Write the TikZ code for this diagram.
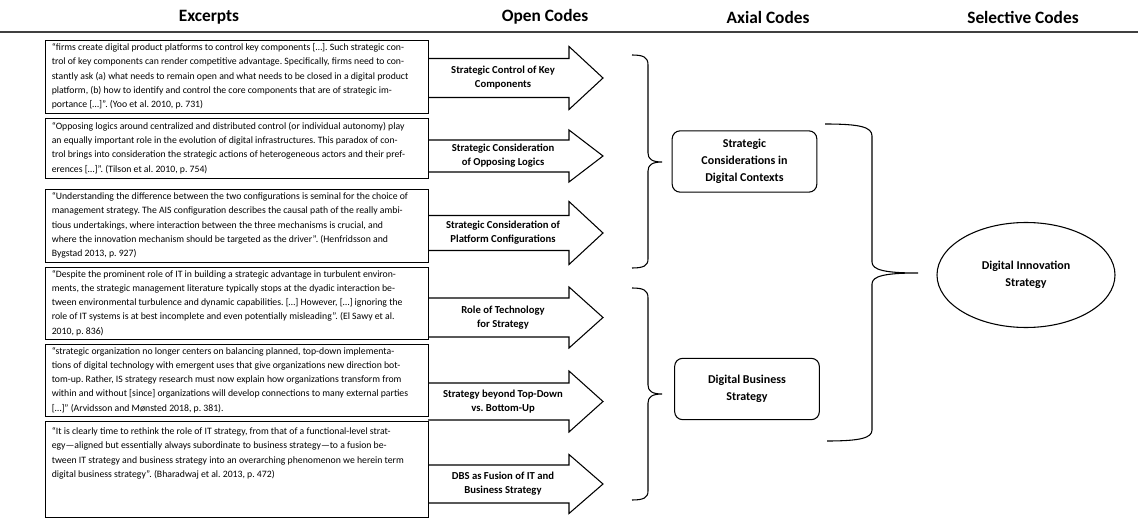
\documentclass[tikz,border=0pt]{standalone}
\usepackage{fontspec}
\setmainfont{Carlito}
\usetikzlibrary{shapes.geometric,shadows}
\begin{document}
\frenchspacing
\begin{tikzpicture}[x=0.75pt,y=-0.75pt,
  hdr/.style={font=\fontsize{13}{15}\selectfont\bfseries, inner sep=0pt},
  excerpt/.style={draw, line width=0.7pt, fill=white, rectangle,
    drop shadow={shadow xshift=1.1pt, shadow yshift=-1.1pt, fill=black!50, opacity=1},
    inner sep=0pt, minimum width=287.25pt},
  etext/.style={inner sep=0pt, align=left, font=\fontsize{7.3}{10.7}\selectfont},
  arrowline/.style={draw, line width=0.8pt, fill=white, line join=miter},
  openlbl/.style={font=\fontsize{8}{10.5}\selectfont\bfseries, align=center, inner sep=0pt},
  axial/.style={draw, line width=0.8pt, rounded corners=6pt, align=center,
    font=\fontsize{9}{12.75}\selectfont\bfseries, minimum width=108.5pt, minimum height=46pt},
  brace/.style={draw, line width=0.8pt},
  selective/.style={draw, ellipse, line width=0.8pt, align=center,
    font=\fontsize{9}{12.75}\selectfont\bfseries, minimum width=133.5pt, minimum height=78.75pt}]
\useasboundingbox (0,0) rectangle (1138,520);

% headers
\node[hdr] (h1) at (209,17) {Excerpts};
\node[hdr] (h2) at (545,17) {Open Codes};
\node[hdr] (h3) at (768,17) {Axial Codes};
\node[hdr] (h4) at (1023,17) {Selective Codes};
\draw[line width=1.1pt, black!75] (0,32) -- (1138,32);

% block arrows
\newcommand{\blockarrow}[3]{%
  \path[arrowline] (428,{#1-#2}) -- (569,{#1-#2}) -- (569,{#1-#3}) -- (603,#1)
    -- (569,{#1+#3}) -- (569,{#1+#2}) -- (428,{#1+#2});}
\blockarrow{78}{19.5}{31.5}
\blockarrow{156}{16}{26}
\blockarrow{233}{17.5}{31.5}
\blockarrow{317.5}{19.5}{30.5}
\blockarrow{401.5}{18.5}{30.5}
\blockarrow{484}{19}{29.5}

% excerpt boxes
\node[excerpt, minimum height=54.75pt] (e1) at (236.5,76.5) {};
\node[excerpt, minimum height=45pt] (e2) at (236.5,148) {};
\node[excerpt, minimum height=54.75pt] (e3) at (236.5,225.5) {};
\node[excerpt, minimum height=54pt] (e4) at (236.5,303) {};
\node[excerpt, minimum height=54pt] (e5) at (236.5,380) {};
\node[excerpt, minimum height=72pt] (e6) at (236.5,469) {};

% excerpt texts
\node[etext, anchor=west] (t1) at ([xshift=5.25pt]e1.west) {“firms create digital product platforms to control key components […]. Such strategic con-\\trol of key components can render competitive advantage. Specifically, firms need to con-\\stantly ask (a) what needs to remain open and what needs to be closed in a digital product\\platform, (b) how to identify and control the core components that are of strategic im-\\portance […]”. (Yoo et al. 2010, p. 731)};
\node[etext, anchor=west] (t2) at ([xshift=5.25pt]e2.west) {“Opposing logics around centralized and distributed control (or individual autonomy) play\\an equally important role in the evolution of digital infrastructures. This paradox of con-\\trol brings into consideration the strategic actions of heterogeneous actors and their pref-\\erences […]”. (Tilson et al. 2010, p. 754)};
\node[etext, anchor=west] (t3) at ([xshift=5.25pt]e3.west) {“Understanding the difference between the two configurations is seminal for the choice of\\management strategy. The AIS configuration describes the causal path of the really ambi-\\tious undertakings, where interaction between the three mechanisms is crucial, and\\where the innovation mechanism should be targeted as the driver”. (Henfridsson and\\Bygstad 2013, p. 927)};
\node[etext, anchor=west] (t4) at ([xshift=5.25pt]e4.west) {“Despite the prominent role of IT in building a strategic advantage in turbulent environ-\\ments, the strategic management literature typically stops at the dyadic interaction be-\\tween environmental turbulence and dynamic capabilities. […] However, […] ignoring the\\role of IT systems is at best incomplete and even potentially misleading”. (El Sawy et al.\\2010, p. 836)};
\node[etext, anchor=west] (t5) at ([xshift=5.25pt]e5.west) {“strategic organization no longer centers on balancing planned, top-down implementa-\\tions of digital technology with emergent uses that give organizations new direction bot-\\tom-up. Rather, IS strategy research must now explain how organizations transform from\\within and without [since] organizations will develop connections to many external parties\\{}[…]” (Arvidsson and Mønsted 2018, p. 381).};
\node[etext, anchor=north west] (t6) at ([xshift=5.25pt,yshift=-5pt]e6.north west) {“It is clearly time to rethink the role of IT strategy, from that of a functional-level strat-\\egy—aligned but essentially always subordinate to business strategy—to a fusion be-\\tween IT strategy and business strategy into an overarching phenomenon we herein term\\digital business strategy”. (Bharadwaj et al. 2013, p. 472)};

% open code labels
\node[openlbl] (o1) at (503,78) {Strategic Control of Key\\Components};
\node[openlbl] (o2) at (503,156) {Strategic Consideration\\of Opposing Logics};
\node[openlbl] (o3) at (503,233) {Strategic Consideration of\\Platform Configurations};
\node[openlbl] (o4) at (503,317.5) {Role of Technology\\for Strategy};
\node[openlbl] (o5) at (503,401.5) {Strategy beyond Top-Down\\vs. Bottom-Up};
\node[openlbl] (o6) at (503,484) {DBS as Fusion of IT and\\Business Strategy};

% axial codes
\node[axial] (a1) at (744.5,161.5) {Strategic\\Considerations in\\Digital Contexts};
\node[axial] (a2) at (747,389) {Digital Business\\Strategy};

% selective code
\node[selective] (s1) at (1026,275) {Digital Innovation\\Strategy};

% braces
\coordinate (b1tip) at (662,162);
\coordinate (b2tip) at (662,394);
\coordinate (b3tip) at (918,273);
\draw[brace] (632,55) .. controls (643,55) and (648,57) .. (648,65) -- (648,153)
  .. controls (648,159) and (652,162) .. (b1tip)
  .. controls (652,162) and (648,165) .. (648,171) -- (648,259)
  .. controls (648,266) and (643,268) .. (632,268);
\draw[brace] (632,288) .. controls (643,288) and (648,290) .. (648,298) -- (648,385)
  .. controls (648,391) and (652,394) .. (b2tip)
  .. controls (652,394) and (648,397) .. (648,403) -- (648,491)
  .. controls (648,498) and (643,500) .. (632,500);
\draw[brace] (825,124) .. controls (860,124) and (872,127) .. (872,136) -- (872,262)
  .. controls (872,270) and (885,273) .. (b3tip)
  .. controls (885,273) and (872,276) .. (872,284) -- (872,430)
  .. controls (872,438) and (860,441) .. (827,441);
\end{tikzpicture}
\end{document}
